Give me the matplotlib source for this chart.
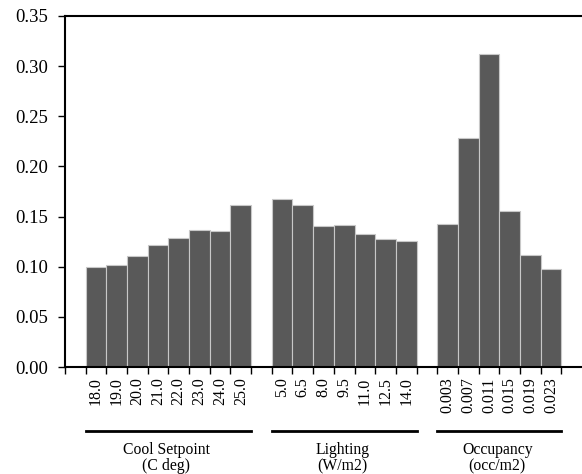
import numpy as np
import matplotlib
matplotlib.use('Agg')
import matplotlib.pyplot as plt

plt.rcParams['font.family'] = ['Liberation Serif', 'DejaVu Serif']

cool_labels = ['18.0', '19.0', '20.0', '21.0', '22.0', '23.0', '24.0', '25.0']
cool_values = [0.100, 0.102, 0.111, 0.122, 0.129, 0.137, 0.136, 0.162]

light_labels = ['5.0', '6.5', '8.0', '9.5', '11.0', '12.5', '14.0']
light_values = [0.168, 0.162, 0.141, 0.142, 0.133, 0.128, 0.126]

occ_labels = ['0.003', '0.007', '0.011', '0.015', '0.019', '0.023']
occ_values = [0.143, 0.228, 0.312, 0.156, 0.112, 0.098]

groups = [
    ('Cool Setpoint', '(C deg)', cool_labels, cool_values),
    ('Lighting', '(W/m2)', light_labels, light_values),
    ('Occupancy', '(occ/m2)', occ_labels, occ_values),
]

fig = plt.figure(figsize=(5.82, 4.74), dpi=100)
ax = fig.add_axes([65 / 582, 107 / 474, 517 / 582, 351 / 474])

bar_color = '#595959'
edge_color = '#c8c8c8'

# each bar takes one slot, one empty slot between groups
slot = 1
centers = []
labels = []
trans = ax.get_xaxis_transform()
for name, unit, cats, vals in groups:
    xs = np.arange(slot, slot + len(cats))
    ax.bar(xs, vals, width=1.0, align='edge', color=bar_color,
           edgecolor=edge_color, linewidth=0.8)
    centers.extend(xs + 0.5)
    labels.extend(cats)
    x0, x1 = xs[0], xs[-1] + 1
    ax.plot([x0, x1], [-0.1815, -0.1815], color='black', lw=2,
            transform=trans, clip_on=False)
    xc = (x0 + x1) / 2 - 0.1
    ax.text(xc, -0.248, name, transform=trans, ha='center',
            va='baseline', fontsize=11.3)
    ax.text(xc, -0.2945, unit, transform=trans, ha='center',
            va='baseline', fontsize=11.3)
    slot += len(cats) + 1

ax.set_xlim(0, 25)
ax.set_ylim(0, 0.35)
ax.set_yticks(np.arange(0, 0.351, 0.05))
ax.set_yticklabels(['%.2f' % v for v in np.arange(0, 0.351, 0.05)])

ax.set_xticks(np.arange(0, 25))
ax.set_xticklabels([])
ax.set_xticks(centers, minor=True)
ax.set_xticklabels(labels, minor=True, rotation=90)
ax.tick_params(axis='x', which='minor', length=0, pad=7.5, labelsize=11.5)
ax.tick_params(axis='x', which='major', length=5, width=1)
ax.tick_params(axis='y', length=5, width=1, labelsize=13.5, pad=7.5)

for s in ['left', 'top', 'bottom']:
    ax.spines[s].set_linewidth(1.5)
ax.spines['right'].set_visible(False)

fig.savefig('out.png', dpi=100)
